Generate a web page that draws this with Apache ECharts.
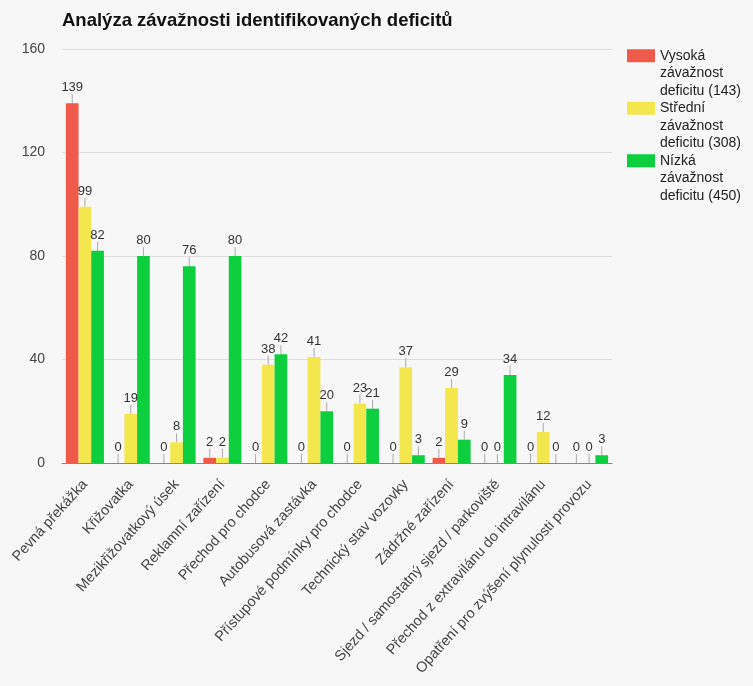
<!DOCTYPE html>
<html>
<head>
<meta charset="utf-8">
<script src="https://cdn.jsdelivr.net/npm/echarts@6/dist/echarts.min.js"></script>
<style>
  html, body { margin: 0; padding: 0; background: #f7f7f7; }
  #chart { width: 753px; height: 686px; }
</style>
</head>
<body>
<div id="chart"></div>
<script>
var categories = [
  'Pevná překážka',
  'Křižovatka',
  'Mezikřižovatkový úsek',
  'Reklamní zařízení',
  'Přechod pro chodce',
  'Autobusová zastávka',
  'Přístupové podmínky pro chodce',
  'Technický stav vozovky',
  'Zádržné zařízení',
  'Sjezd / samostatný sjezd / parkoviště',
  'Přechod z extravilánu do intravilánu',
  'Opatření pro zvýšení plynulosti provozu'
];
var seriesNames = [
  'Vysoká\nzávažnost\ndeficitu (143)',
  'Střední\nzávažnost\ndeficitu (308)',
  'Nízká\nzávažnost\ndeficitu (450)'
];
var highValues = [139, 0, 0, 2, 0, 0, 0, 0, 2, 0, 0, 0];
var mediumValues = [99, 19, 8, 2, 38, 41, 23, 37, 29, 0, 12, 0];
var lowValues = [82, 80, 76, 80, 42, 20, 21, 3, 9, 34, 0, 3];
var colors = ['#ef5a4b', '#f4e74e', '#0dcf3e'];

var font = 'Liberation Sans, Arial, sans-serif';

function makeSeries(name, data, color) {
  return {
    name: name,
    type: 'bar',
    data: data,
    barGap: '0%',
    barCategoryGap: '17%',
    itemStyle: { color: color },
    label: {
      show: true,
      position: 'top',
      distance: 2,
      color: '#333',
      fontSize: 13,
      fontFamily: font
    },
    labelLayout: { dy: -7 },
    labelLine: {
      show: true,
      length2: 0,
      lineStyle: { color: '#aaa', width: 1 }
    }
  };
}

var chart = echarts.init(document.getElementById('chart'));
chart.setOption({
  backgroundColor: '#f7f7f7',
  animation: false,
  color: colors,
  title: {
    text: 'Analýza závažnosti identifikovaných deficitů',
    left: 57,
    top: 6,
    textStyle: { fontSize: 18.5, fontWeight: 'bold', color: '#111', fontFamily: font }
  },
  legend: {
    orient: 'vertical',
    left: 622,
    top: 7,
    itemWidth: 28,
    itemHeight: 13,
    itemGap: -35,
    icon: 'rect',
    data: seriesNames,
    // two empty lines on top keep the swatch level with the first text line
    formatter: function (name) { return '\n\n' + name; },
    textStyle: { fontSize: 14, color: '#222', lineHeight: 17.5, fontFamily: font }
  },
  grid: { left: 62, right: 141, top: 49, bottom: 223 },
  xAxis: {
    type: 'category',
    data: categories,
    axisLine: { lineStyle: { color: '#888' } },
    axisTick: { show: false },
    axisLabel: {
      interval: 0,
      rotate: 48,
      fontSize: 14.5,
      color: '#444',
      margin: 19,
      fontFamily: font
    }
  },
  yAxis: {
    type: 'value',
    min: 0,
    max: 160,
    interval: 40,
    axisLabel: { fontSize: 14, color: '#444', margin: 17, fontFamily: font },
    splitLine: { lineStyle: { color: '#ddd' } }
  },
  series: [
    makeSeries(seriesNames[0], highValues, colors[0]),
    makeSeries(seriesNames[1], mediumValues, colors[1]),
    makeSeries(seriesNames[2], lowValues, colors[2])
  ]
});
</script>
</body>
</html>
